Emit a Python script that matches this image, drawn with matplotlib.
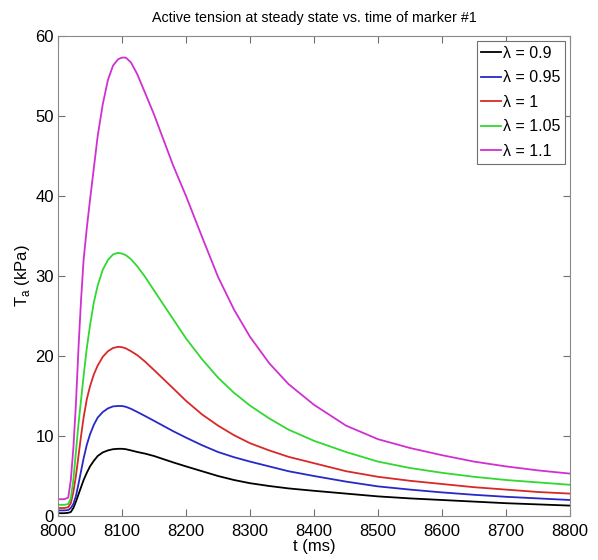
import matplotlib
matplotlib.use("Agg")
import matplotlib.pyplot as plt

plt.rcParams['font.family'] = ['Liberation Sans', 'DejaVu Sans']

# time samples (ms)
t = [8000, 8010, 8016, 8020, 8024, 8028, 8032, 8036, 8040, 8045, 8050, 8056, 8062,
     8070, 8078, 8086, 8094, 8100, 8106, 8114, 8124, 8136, 8150, 8165, 8180, 8200,
     8225, 8250, 8275, 8300, 8330, 8360, 8400, 8450, 8500, 8550, 8600, 8650, 8700,
     8750, 8800]

ta_090 = [0.35, 0.35, 0.4, 0.5, 1.0, 1.8, 2.7, 3.6, 4.5, 5.4, 6.2, 6.9, 7.5,
          7.95, 8.2, 8.35, 8.4, 8.4, 8.35, 8.2, 8.0, 7.8, 7.5, 7.1, 6.7, 6.2,
          5.6, 5.0, 4.5, 4.1, 3.75, 3.45, 3.15, 2.8, 2.45, 2.2, 2.0, 1.8, 1.6,
          1.45, 1.3]
ta_095 = [0.7, 0.7, 0.75, 1.0, 1.5, 2.5, 4.0, 5.6, 7.2, 8.9, 10.2, 11.4, 12.3,
          13.0, 13.45, 13.7, 13.75, 13.75, 13.65, 13.4, 13.0, 12.5, 11.9, 11.25, 10.6, 9.8,
          8.85, 8.0, 7.35, 6.8, 6.2, 5.6, 5.0, 4.3, 3.7, 3.3, 2.95, 2.65, 2.4,
          2.2, 2.0]
ta_100 = [1.0, 1.0, 1.1, 1.6, 3.0, 5.0, 7.5, 10.0, 12.3, 14.6, 16.2, 17.7, 18.8,
          19.9, 20.6, 21.0, 21.15, 21.1, 20.95, 20.6, 20.1, 19.3, 18.25, 17.1, 15.95, 14.4,
          12.7, 11.3, 10.1, 9.1, 8.2, 7.4, 6.6, 5.6, 4.9, 4.4, 4.0, 3.6, 3.3,
          3.0, 2.8]
ta_105 = [1.4, 1.4, 1.5, 2.2, 4.5, 8.0, 11.5, 14.5, 17.5, 21.0, 23.8, 26.7, 28.8,
          30.8, 32.0, 32.7, 32.9, 32.8, 32.6, 32.1, 31.2, 29.9, 28.2, 26.4, 24.6, 22.2,
          19.6, 17.3, 15.4, 13.8, 12.2, 10.8, 9.4, 8.0, 6.8, 6.0, 5.4, 4.9, 4.5,
          4.2, 3.9]
ta_110 = [2.1, 2.1, 2.3, 4.5, 8.5, 14.0, 21.0, 27.0, 32.0, 36.0, 39.5, 43.5, 47.5,
          51.5, 54.5, 56.3, 57.1, 57.3, 57.3, 56.7, 55.2, 52.9, 50.2, 47.0, 43.8, 40.0,
          34.9, 29.9, 25.8, 22.4, 19.1, 16.5, 13.9, 11.3, 9.6, 8.5, 7.6, 6.8, 6.2,
          5.7, 5.3]

series = [ta_090, ta_095, ta_100, ta_105, ta_110]
labels = ['λ = 0.9', 'λ = 0.95', 'λ = 1', 'λ = 1.05', 'λ = 1.1']
colours = ['black', '#2828c8', '#d82828', '#30d830', '#d030d0']

fig = plt.figure(figsize=(5.98, 5.60), dpi=100)
ax = fig.add_axes([58/598, 1-516/560, 512/598, 480/560])

for i in range(len(series)):
    ax.plot(t, series[i], color=colours[i], lw=1.3, label=labels[i])

ax.set_xlim(8000, 8800)
ax.set_ylim(0, 60)
ax.set_xticks(range(8000, 8801, 100))
ax.set_yticks(range(0, 61, 10))
ax.tick_params(direction='in', top=True, right=True, labelsize=12, length=5,
               color='#707070', pad=3)
ax.tick_params(axis='x', pad=6)
for s in ax.spines.values():
    s.set_color('#8a8a8a')

ax.set_title('Active tension at steady state vs. time of marker #1', fontsize=10.3, pad=10)
ax.set_xlabel('t (ms)', fontsize=12, labelpad=0)
ax.set_ylabel('T$_\\mathregular{a}$ (kPa)', fontsize=12, labelpad=2)

leg = ax.legend(loc='upper right', fontsize=11.5, handlelength=1.2, handletextpad=0.15,
                borderaxespad=0.3, fancybox=False, framealpha=1, labelspacing=0.6,
                borderpad=0.3, handleheight=0.7)
leg.get_frame().set_edgecolor('#707070')
leg.get_frame().set_linewidth(0.8)

fig.savefig('out.png', dpi=100)
